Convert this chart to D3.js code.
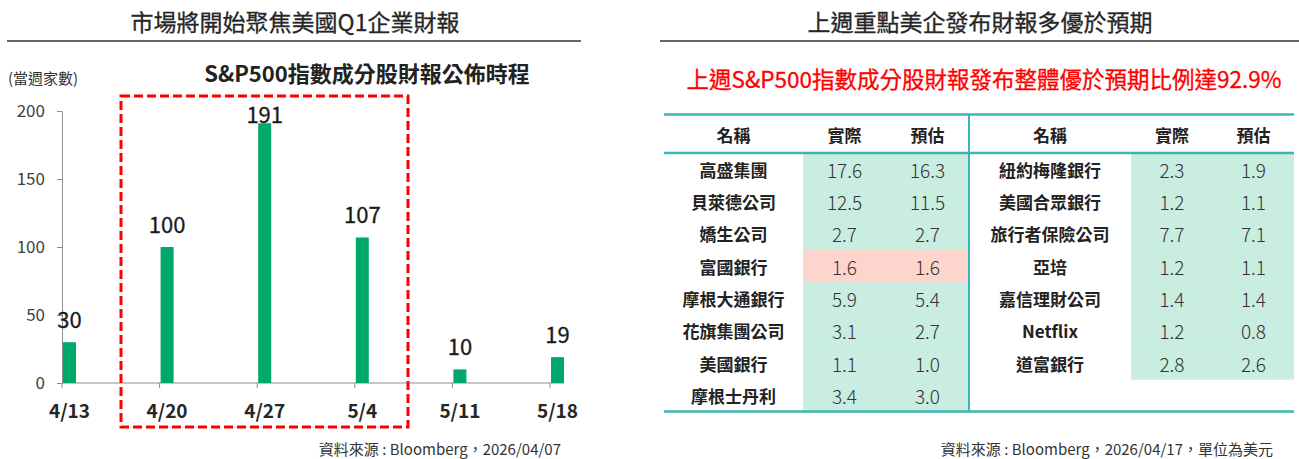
<!DOCTYPE html>
<html>
<head>
<meta charset="utf-8">
<script src="https://cdn.jsdelivr.net/npm/d3@7"></script>
<style>
  body { margin: 0; background: #fff; }
  text { font-family: "Noto Sans CJK TC", "Noto Sans", sans-serif; }
</style>
</head>
<body>
<div id="main"></div>
<script>
// left chart: S&P500 members reporting per week
const weeks = ['4/13', '4/20', '4/27', '5/4', '5/11', '5/18'];
const counts = [30, 100, 191, 107, 10, 19];
const yTicks = [0, 50, 100, 150, 200];

// right table: actual vs estimate EPS (USD)
const headers = ['名稱', '實際', '預估'];
const leftNames = ['高盛集團', '貝萊德公司', '嬌生公司', '富國銀行', '摩根大通銀行', '花旗集團公司', '美國銀行', '摩根士丹利'];
const leftActual = [17.6, 12.5, 2.7, 1.6, 5.9, 3.1, 1.1, 3.4];
const leftEstimate = [16.3, 11.5, 2.7, 1.6, 5.4, 2.7, 1.0, 3.0];
const rightNames = ['紐約梅隆銀行', '美國合眾銀行', '旅行者保險公司', '亞培', '嘉信理財公司', 'Netflix', '道富銀行'];
const rightActual = [2.3, 1.2, 7.7, 1.2, 1.4, 1.2, 2.8];
const rightEstimate = [1.9, 1.1, 7.1, 1.1, 1.4, 0.8, 2.6];
// rows shaded pink in the source table
const pinkRows = ['富國銀行'];

const width = 1299, height = 459;
const teal = '#3bb5b5';

let svg = d3.select('#main')
    .append('svg')
        .attr('width', width)
        .attr('height', height);

// ---------- headings ----------
svg.append('text').attr('x', 295).attr('y', 21)
    .attr('text-anchor', 'middle').attr('dominant-baseline', 'central')
    .style('font-size', '23px').style('fill', '#262626')
    .style('stroke', '#262626').style('stroke-width', 0.3)
    .text('市場將開始聚焦美國Q1企業財報');
svg.append('line').attr('x1', 7).attr('x2', 581).attr('y1', 41).attr('y2', 41)
    .style('stroke', '#333').style('stroke-width', 1.5);

svg.append('text').attr('x', 980).attr('y', 21)
    .attr('text-anchor', 'middle').attr('dominant-baseline', 'central')
    .style('font-size', '23px').style('fill', '#262626')
    .style('stroke', '#262626').style('stroke-width', 0.3)
    .text('上週重點美企發布財報多優於預期');
svg.append('line').attr('x1', 660).attr('x2', 1299).attr('y1', 41).attr('y2', 41)
    .style('stroke', '#333').style('stroke-width', 1.5);

// ---------- bar chart ----------
const y = d3.scaleLinear().domain([0, 200]).range([383, 111]);
const x = d3.scalePoint().domain(weeks).range([62, 550]);
const barW = 13;

svg.append('text').attr('x', 367).attr('y', 72)
    .attr('text-anchor', 'middle').attr('dominant-baseline', 'central')
    .style('font-size', '22px').style('font-weight', 'bold').style('fill', '#222')
    .text('S&P500指數成分股財報公佈時程');

svg.append('text').attr('x', 8).attr('y', 77)
    .attr('dominant-baseline', 'central')
    .style('font-size', '15px').style('fill', '#333')
    .text('(當週家數)');

let yAxis = svg.append('g')
    .attr('transform', 'translate(62,0)')
    .call(d3.axisLeft(y).tickValues(yTicks).tickSize(5).tickSizeOuter(0).tickPadding(12));
yAxis.select('.domain').style('stroke', '#8c8c8c');
yAxis.selectAll('.tick line').style('stroke', '#8c8c8c');
yAxis.selectAll('.tick text')
    .style('font-size', '17px').style('fill', '#404040')
    .style('font-family', '"Noto Sans CJK TC", sans-serif');

// x axis baseline and ticks
svg.append('line').attr('x1', 62).attr('x2', 564).attr('y1', y(0)).attr('y2', y(0))
    .style('stroke', '#8c8c8c');
svg.selectAll('.xtick')
    .data(weeks)
        .enter()
        .append('line')
            .attr('class', 'xtick')
            .attr('x1', d => x(d)).attr('x2', d => x(d))
            .attr('y1', y(0)).attr('y2', y(0) + 5)
            .style('stroke', '#8c8c8c');

svg.selectAll('.bar')
    .data(counts)
        .enter()
        .append('rect')
            .attr('class', 'bar')
            .attr('x', (d, i) => x(weeks[i]) + 1)
            .attr('y', d => y(d))
            .attr('width', barW)
            .attr('height', d => y(0) - y(d))
            .style('fill', '#00a86b');

svg.selectAll('.barlabel')
    .data(counts)
        .enter()
        .append('text')
            .attr('class', 'barlabel')
            .attr('x', (d, i) => x(weeks[i]) + 1 + barW / 2)
            .attr('y', d => Math.max(y(d) - 24, y(200) + 2)) // keep label inside plot
            .attr('text-anchor', 'middle').attr('dominant-baseline', 'central')
            .style('font-size', '22px').style('fill', '#1a1a1a')
            .style('stroke', '#1a1a1a').style('stroke-width', 0.3)
            .text(d => d);

svg.selectAll('.xlabel')
    .data(weeks)
        .enter()
        .append('text')
            .attr('class', 'xlabel')
            .attr('x', d => x(d) + 1 + barW / 2)
            .attr('y', 409)
            .attr('text-anchor', 'middle').attr('dominant-baseline', 'central')
            .style('font-size', '19px').style('font-weight', 'bold').style('fill', '#262626')
            .text(d => d);

// highlight box around the busiest weeks
svg.append('rect')
    .attr('x', 121).attr('y', 96).attr('width', 287).attr('height', 331)
    .style('fill', 'none').style('stroke', '#ff0000')
    .style('stroke-width', 3).style('stroke-dasharray', '9,4');

svg.append('text').attr('x', 561).attr('y', 448)
    .attr('text-anchor', 'end').attr('dominant-baseline', 'central')
    .style('font-size', '15px').style('fill', '#333')
    .text('資料來源 : Bloomberg，2026/04/07');

// ---------- table ----------
svg.append('text').attr('x', 984).attr('y', 78)
    .attr('text-anchor', 'middle').attr('dominant-baseline', 'central')
    .style('font-size', '22.5px').style('fill', '#ff0000')
    .style('stroke', '#ff0000').style('stroke-width', 0.3)
    .text('上週S&P500指數成分股財報發布整體優於預期比例達92.9%');

const tableTop = 114.5, headBottom = 153, tableBottom = 411.5;
const rows = d3.scaleBand().domain(d3.range(leftNames.length)).range([headBottom, tableBottom]);
const fmt = d3.format('.1f');

// each half: column edges [name | actual | estimate]
const halves = [
    { names: leftNames, act: leftActual, est: leftEstimate, edges: [664, 803, 886, 969] },
    { names: rightNames, act: rightActual, est: rightEstimate, edges: [969, 1131, 1213, 1294] }
];

halves.forEach(h => {
    const e = h.edges;
    const cx = [(e[0] + e[1]) / 2, (e[1] + e[2]) / 2, (e[2] + e[3]) / 2];

    let g = svg.append('g');
    g.selectAll('rect')
        .data(h.names)
            .enter()
            .append('rect')
                .attr('x', e[1]).attr('y', (d, i) => rows(i))
                .attr('width', e[3] - e[1]).attr('height', rows.bandwidth() + 0.5)
                .style('fill', d => pinkRows.includes(d) ? '#fdd5cc' : '#c9ede1');

    g.selectAll('.head')
        .data(headers)
            .enter()
            .append('text')
                .attr('x', (d, i) => cx[i]).attr('y', 134)
                .attr('text-anchor', 'middle').attr('dominant-baseline', 'central')
                .style('font-size', '17px').style('font-weight', 'bold').style('fill', '#222')
                .text(d => d);

    g.selectAll('.name')
        .data(h.names)
            .enter()
            .append('text')
                .attr('x', cx[0]).attr('y', (d, i) => rows(i) + rows.bandwidth() / 2)
                .attr('text-anchor', 'middle').attr('dominant-baseline', 'central')
                .style('font-size', '17px').style('font-weight', 'bold').style('fill', '#222')
                .text(d => d);

    [h.act, h.est].forEach((col, k) => {
        g.selectAll('.num' + k)
            .data(col)
                .enter()
                .append('text')
                    .attr('x', cx[k + 1]).attr('y', (d, i) => rows(i) + rows.bandwidth() / 2)
                    .attr('text-anchor', 'middle').attr('dominant-baseline', 'central')
                    .style('font-size', '19px').style('font-weight', 300).style('fill', '#333')
                    .text(d => fmt(d));
    });
});

[tableTop, headBottom, tableBottom].forEach(yy => {
    svg.append('line').attr('x1', 664).attr('x2', 1294).attr('y1', yy).attr('y2', yy)
        .style('stroke', teal).style('stroke-width', 2.5);
});
svg.append('line').attr('x1', 969).attr('x2', 969).attr('y1', tableTop).attr('y2', tableBottom)
    .style('stroke', teal).style('stroke-width', 2);

svg.append('text').attr('x', 1273).attr('y', 448)
    .attr('text-anchor', 'end').attr('dominant-baseline', 'central')
    .style('font-size', '15px').style('fill', '#333')
    .text('資料來源 : Bloomberg，2026/04/17，單位為美元');
</script>
</body>
</html>
